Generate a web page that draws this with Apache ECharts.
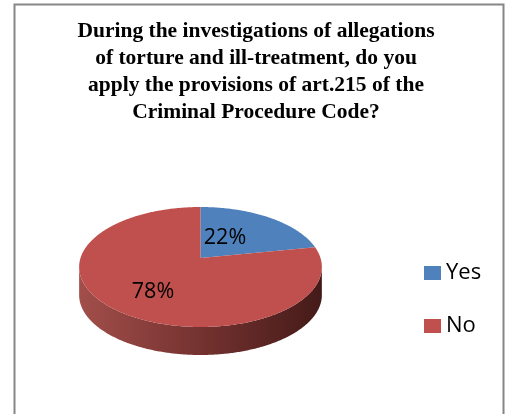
<!DOCTYPE html>
<html>
<head>
<meta charset="utf-8">
<style>
  html, body { margin: 0; padding: 0; background: #fff; }
  #chart { width: 509px; height: 414px; }
</style>
</head>
<body>
<div id="chart"></div>
<script src="https://cdn.jsdelivr.net/npm/echarts@6/dist/echarts.min.js"></script>
<script>
var titleLines = [
  'During the investigations of allegations',
  'of torture and ill-treatment, do you',
  'apply the provisions of art.215 of the',
  'Criminal Procedure Code?'
];
var categories = ['Yes', 'No'];
var percents = [22, 78];
var colors = ['#4f81bd', '#c0504d'];

// tilted pie: the circle goes through a small perspective so the apex sits above the middle
var apexX = 200.5, apexY = 258, radX = 120, radY = 58.65, tilt = 0.15, depth = 28;
var labelPos = [[225, 238], [153, 292]];
var total = percents.reduce(function (a, b) { return a + b; }, 0);

function project(angle) {
  var u = Math.sin(angle), v = Math.cos(angle), w = 1 + tilt * v;
  return [apexX + radX * u / w, apexY - radY * v / w];
}

function startAngle(idx) {
  var sum = 0;
  for (var i = 0; i < idx; i++) sum += percents[i];
  return sum / total * Math.PI * 2;
}

function renderSlice(params, api) {
  var idx = params.seriesIndex;
  var a0 = startAngle(idx), a1 = a0 + percents[idx] / total * Math.PI * 2;
  var face = [[apexX, apexY]], front = [];
  for (var a = a0; a < a1; a += 0.01) addPoint(a);
  addPoint(a1);
  function addPoint(ang) {
    var p = project(ang);
    face.push(p);
    if (Math.cos(ang) <= -tilt) front.push(p);
  }
  var children = [];
  if (front.length) {
    var wall = front.concat(front.slice().reverse().map(function (p) { return [p[0], p[1] + depth]; }));
    children.push({
      type: 'polygon',
      shape: { points: wall },
      style: {
        fill: new echarts.graphic.LinearGradient(apexX - radX, 0, apexX + radX, 0, [
          { offset: 0, color: '#a24e4a' },
          { offset: 0.5, color: '#743230' },
          { offset: 1, color: '#451b19' }
        ], true)
      }
    });
  }
  children.push({ type: 'polygon', shape: { points: face }, style: { fill: colors[idx] } });
  children.push({
    type: 'text',
    x: labelPos[idx][0],
    y: labelPos[idx][1],
    style: {
      text: percents[idx] + '%',
      fill: '#000',
      font: '21.5px "Open Sans"',
      align: 'center',
      verticalAlign: 'middle'
    }
  });
  return { type: 'group', children: children };
}

var chart = echarts.init(document.getElementById('chart'), null, { renderer: 'canvas' });
chart.setOption({
  animation: false,
  color: colors,
  title: {
    text: titleLines.join('\n'),
    left: 251,
    top: 13,
    textAlign: 'center',
    textStyle: {
      fontFamily: '"Liberation Serif"',
      fontSize: 21.5,
      fontWeight: 'bold',
      color: '#000',
      lineHeight: 27
    }
  },
  legend: {
    data: categories,
    orient: 'vertical',
    left: 419,
    top: 257,
    icon: 'rect',
    itemWidth: 17,
    itemHeight: 14,
    itemGap: 31,
    textStyle: { fontFamily: '"Open Sans"', fontSize: 22, color: '#000' }
  },
  graphic: [{
    type: 'rect',
    shape: { x: 14.5, y: 4.5, width: 489, height: 420 },
    style: { fill: 'none', stroke: '#868686', lineWidth: 2 },
    silent: true
  }],
  series: categories.map(function (name, i) {
    return {
      type: 'custom',
      name: name,
      coordinateSystem: 'none',
      renderItem: renderSlice,
      data: [percents[i]]
    };
  })
});
</script>
</body>
</html>
